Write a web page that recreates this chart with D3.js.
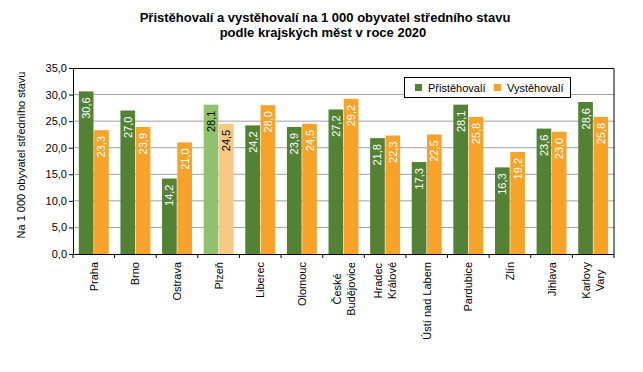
<!DOCTYPE html>
<html>
<head>
<meta charset="utf-8">
<script src="https://cdn.jsdelivr.net/npm/d3@7"></script>
<style>
  body { margin: 0; background: #fff; }
  svg { font-family: "Liberation Sans", Arial, sans-serif; }
</style>
</head>
<body>
<div id="chart"></div>
<script>
// data
const cities = [
  'Praha', 'Brno', 'Ostrava', 'Plzeň', 'Liberec', 'Olomouc', 'České|Budějovice',
  'Hradec|Králové', 'Ústí nad Labem', 'Pardubice', 'Zlín', 'Jihlava', 'Karlovy|Vary'
];
const prist = [30.6, 27.0, 14.2, 28.1, 24.2, 23.9, 27.2, 21.8, 17.3, 28.1, 16.3, 23.6, 28.6];
const vyst = [23.3, 23.9, 21.0, 24.5, 28.0, 24.5, 29.2, 22.3, 22.5, 25.8, 19.2, 23.0, 25.8];
const seriesNames = ['Přistěhovalí', 'Vystěhovalí'];
const yTicks = [0, 5, 10, 15, 20, 25, 30, 35];
const highlight = 'Plzeň';

const colors = ['#548235', '#F7A229'];
const lightColors = ['#8FC26A', '#F9C883'];

const W = 643, H = 372;
const margin = {top: 68, right: 29, bottom: 118, left: 73};
const width = W - margin.left - margin.right;
const height = H - margin.top - margin.bottom;

const svg = d3.select('#chart').append('svg')
  .attr('width', W)
  .attr('height', H);

// title
svg.append('text')
  .attr('x', 325).attr('y', 22)
  .attr('text-anchor', 'middle')
  .style('font-size', '13px').style('font-weight', 'bold')
  .text('Přistěhovalí a vystěhovalí  na 1 000 obyvatel středního stavu');
svg.append('text')
  .attr('x', 323).attr('y', 37)
  .attr('text-anchor', 'middle')
  .style('font-size', '13px').style('font-weight', 'bold')
  .text('podle krajských  měst v roce 2020');

const g = svg.append('g')
  .attr('transform', 'translate(' + margin.left + ',' + margin.top + ')');

const x = d3.scaleBand()
  .domain(cities)
  .range([0, width])
  .paddingInner(0.28)
  .paddingOuter(0.14);

const x1 = d3.scaleBand()
  .domain([0, 1])
  .range([0, x.bandwidth()])
  .paddingInner(0.04);

const y = d3.scaleLinear()
  .domain([0, 35])
  .range([height, 0]);

// gridlines
g.selectAll('.grid')
  .data(yTicks.filter(d => d > 0 && d < 35))
  .enter().append('line')
  .attr('x1', 0).attr('x2', width)
  .attr('y1', d => y(d)).attr('y2', d => y(d))
  .attr('stroke', '#a0a0a0').attr('stroke-width', 1);

// frame top + right
g.append('path')
  .attr('d', 'M0,0.5H' + width + 'V' + height)
  .attr('fill', 'none').attr('stroke', '#000');

// bars
const step = x.step();
cities.forEach((c, i) => {
  const vals = [prist[i], vyst[i]];
  const cx = x(c);
  vals.forEach((v, s) => {
    const light = c === highlight;
    const bx = cx + x1(s);
    g.append('rect')
      .attr('x', bx)
      .attr('y', y(v))
      .attr('width', x1.bandwidth())
      .attr('height', height - y(v))
      .attr('fill', light ? lightColors[s] : colors[s]);
    g.append('text')
      .attr('transform', 'translate(' + (bx + x1.bandwidth() / 2 + 4) + ',' + (y(v) + 6) + ') rotate(-90)')
      .attr('text-anchor', 'end')
      .style('font-size', '11px')
      .attr('fill', light ? '#000' : '#fff')
      .text(v.toFixed(1).replace('.', ','));
  });
});

// y axis
const yAxis = g.append('g')
  .call(d3.axisLeft(y).tickValues(yTicks).tickSize(4).tickFormat(d => d.toFixed(1).replace('.', ',')));
yAxis.select('.domain').attr('stroke', '#000');
yAxis.selectAll('text').style('font-size', '11px').attr('fill', '#000').attr('x', -6);

svg.append('text')
  .attr('transform', 'translate(25,' + (margin.top + height / 2 - 6) + ') rotate(-90)')
  .attr('text-anchor', 'middle')
  .style('font-size', '11px')
  .text('Na 1 000 obyvatel středního stavu');

// x axis
const xa = g.append('g').attr('transform', 'translate(0,' + height + ')');
xa.append('line').attr('x1', 0).attr('x2', width).attr('y1', 0.5).attr('y2', 0.5).attr('stroke', '#000');
d3.range(cities.length + 1).forEach(i => {
  xa.append('line')
    .attr('x1', i * step).attr('x2', i * step)
    .attr('y1', 0).attr('y2', 4)
    .attr('stroke', '#000');
});

cities.forEach(c => {
  const lines = c.split('|');
  const cx = x(c) + x.bandwidth() / 2;
  const lh = 14;
  const grp = xa.append('g');
  const texts = lines.map((t, j) => grp.append('text')
    .attr('text-anchor', 'middle')
    .style('font-size', '11px')
    .text(t));
  const lens = texts.map(t => t.node().getComputedTextLength());
  const maxLen = d3.max(lens);
  texts.forEach((t, j) => {
    const lx = cx + (j - (lines.length - 1) / 2) * lh + 4;
    t.attr('transform', 'translate(' + lx + ',' + (8 + maxLen / 2) + ') rotate(-90)');
  });
});

// legend
const lg = svg.append('g').attr('transform', 'translate(404,77)');
lg.append('rect').attr('x', 0.5).attr('y', 0.5).attr('width', 166).attr('height', 20)
  .attr('fill', '#fff').attr('stroke', '#000');
const legX = [11, 90];
seriesNames.forEach((n, s) => {
  lg.append('rect').attr('x', legX[s]).attr('y', 7).attr('width', 7).attr('height', 7).attr('fill', colors[s]);
  lg.append('text').attr('x', legX[s] + 13).attr('y', 14.5)
    .style('font-size', '11px').text(n);
});
</script>
</body>
</html>
